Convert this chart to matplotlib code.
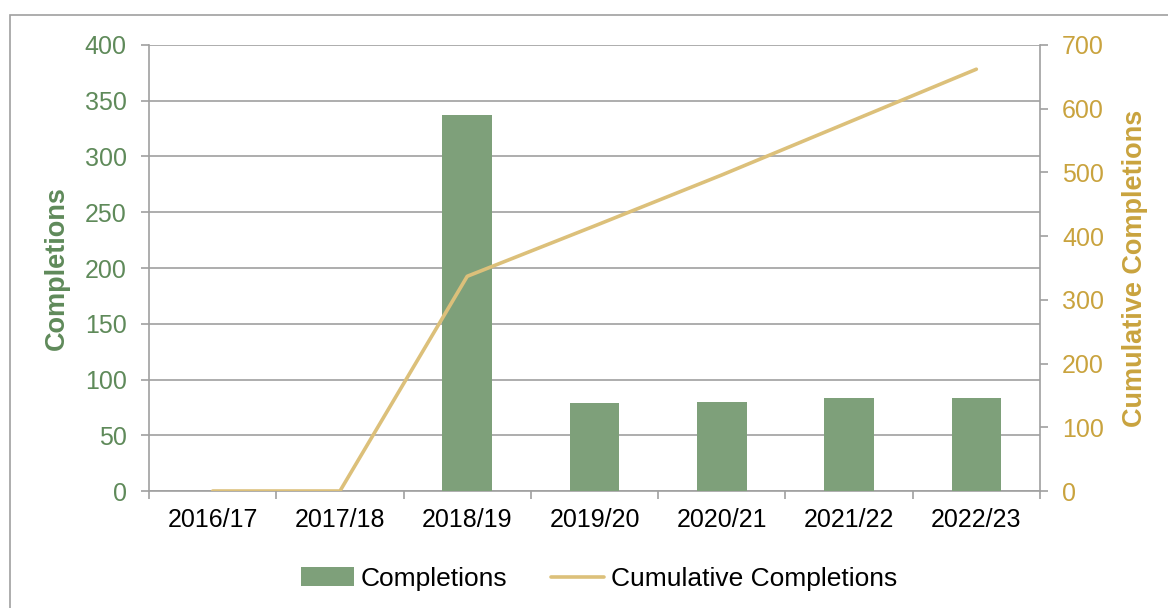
import matplotlib
matplotlib.use("Agg")
import matplotlib.pyplot as plt
from matplotlib.patches import Rectangle
import numpy as np

# Data
years = ["2016/17", "2017/18", "2018/19", "2019/20", "2020/21", "2021/22", "2022/23"]
completions = [0, 0, 337, 79, 80, 83, 83]
cumulative = [0, 0, 337, 416, 496, 579, 662]

green = "#7ea07a"
green_txt = "#5f8a5a"
gold = "#dcc07a"
gold_txt = "#c9a33e"
grey = "#a0a0a0"

plt.rcParams["font.family"] = ["Liberation Sans", "DejaVu Sans"]
plt.rcParams["font.size"] = 18

fig = plt.figure(figsize=(11.68, 6.08), dpi=100)
ax = fig.add_axes([0.1276, 0.1924, 0.7628, 0.7336])

# outer chart border
fig.patches.append(Rectangle((10 / 1168, -0.1), 1.2, 1.0 - 15 / 608 + 0.1,
                             transform=fig.transFigure, fill=False,
                             edgecolor=grey, lw=1.2))

x = np.arange(len(years))
bars = ax.bar(x, completions, width=0.39, color=green, zorder=3, label="Completions")
ax.set_xlim(-0.5, len(years) - 0.5)
ax.set_ylim(0, 400)
ax.set_yticks(range(0, 401, 50))
ax.grid(axis="y", color=grey, lw=1.2, zorder=0)
ax.set_axisbelow(True)

ax.set_xticks(x)
ax.set_xticklabels(years)
ax.set_xticks(np.arange(-0.5, len(years)), minor=True)
ax.tick_params(axis="x", which="major", length=0, pad=12)
ax.tick_params(axis="x", which="minor", length=6, color=grey, width=1.2)
ax.tick_params(axis="y", length=6, color=grey, width=1.2, pad=10, labelcolor=green_txt)

for s in ["top", "right"]:
    ax.spines[s].set_visible(False)
for s in ["left", "bottom"]:
    ax.spines[s].set_color(grey)
    ax.spines[s].set_linewidth(1.2)

ax.set_ylabel("Completions", color=green_txt, fontweight="bold", fontsize=19.5)
ax.yaxis.set_label_coords(-0.0887, 0.5)

ax2 = ax.twinx()
line, = ax2.plot(x, cumulative, color=gold, lw=2.6, zorder=4,
                 label="Cumulative Completions", solid_capstyle="round")
ax2.set_ylim(0, 700)
ax2.set_yticks(range(0, 701, 100))
ax2.tick_params(axis="y", length=6, color=grey, width=1.2, pad=10, labelcolor=gold_txt)
for s in ["top", "left", "bottom"]:
    ax2.spines[s].set_visible(False)
ax2.spines["right"].set_color(grey)
ax2.spines["right"].set_linewidth(1.2)
ax2.set_ylabel("Cumulative Completions", color=gold_txt, fontweight="bold", fontsize=19.5)
ax2.yaxis.set_label_coords(1.092, 0.5)

fig.legend([bars, line], ["Completions", "Cumulative Completions"],
           loc="center", bbox_to_anchor=(0.513, 0.048), ncol=2, frameon=False,
           handlelength=2.0, handletextpad=0.27, columnspacing=1.65, fontsize=19)

fig.savefig("out.png", dpi=100)
